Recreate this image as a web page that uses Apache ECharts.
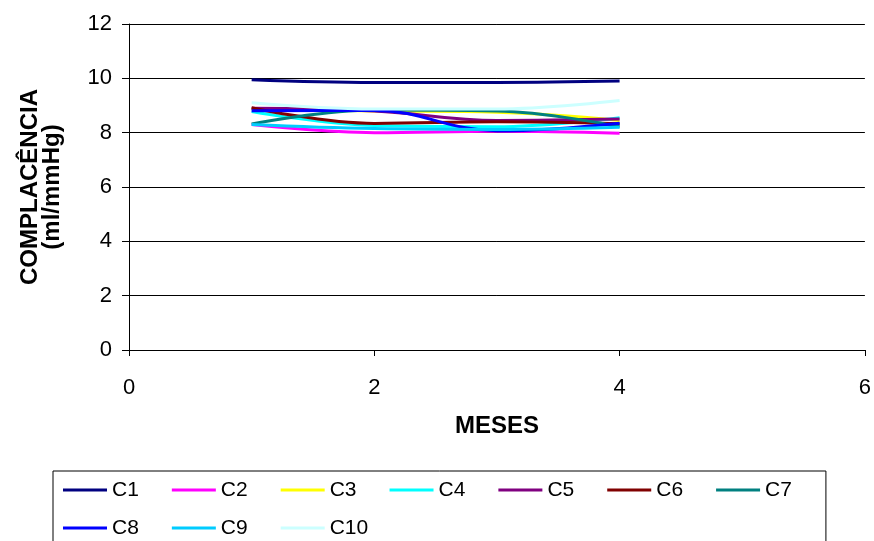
<!DOCTYPE html>
<html>
<head>
<meta charset="utf-8">
<script src="https://cdn.jsdelivr.net/npm/echarts@6/dist/echarts.min.js"></script>
<style>
  html, body { margin: 0; padding: 0; background: #fff; }
  #chart { width: 874px; height: 541px; }
</style>
</head>
<body>
<div id="chart"></div>
<script>
// months on the x axis
const meses = [1, 2, 3, 4];

// compliance values (ml/mmHg)
const c1 = [9.95, 9.85, 9.85, 9.9];
const c2 = [8.3, 8.0, 8.05, 7.98];
const c3 = [8.87, 8.8, 8.75, 8.45];
const c4 = [8.78, 8.26, 8.22, 8.55];
const c5 = [8.9, 8.8, 8.45, 8.5];
const c6 = [8.92, 8.34, 8.4, 8.33];
const c7 = [8.32, 8.83, 8.8, 8.22];
const c8 = [8.81, 8.82, 8.07, 8.35];
const c9 = [8.3, 8.15, 8.12, 8.2];
const c10 = [9.1, 8.87, 8.87, 9.18];

const names = ["C1", "C2", "C3", "C4", "C5", "C6", "C7", "C8", "C9", "C10"];
const values = [c1, c2, c3, c4, c5, c6, c7, c8, c9, c10];
const colors = ["#000080", "#FF00FF", "#FFFF00", "#00FFFF", "#800080",
                "#800000", "#008080", "#0000FF", "#00CCFF", "#CCFFFF"];

const font = "Arial, 'Liberation Sans', sans-serif";

let chart = echarts.init(document.getElementById("chart"));

let series = names.map((name, i) => ({
  name: name,
  type: "line",
  smooth: 0.4,
  symbol: "none",
  data: meses.map((m, j) => [m, values[i][j]]),
  lineStyle: { color: colors[i], width: 3 },
  itemStyle: { color: colors[i] },
}));

// shared legend look; the legend is split in two rows by hand
const legendBase = {
  orient: "horizontal",
  itemGap: 33,
  itemWidth: 44,
  itemHeight: 14,
  icon: "path://M0,0 L44,0 L44,3 L0,3 Z",
  textStyle: { color: "#000", fontSize: 21, fontFamily: font, lineHeight: 22 },
};

let option = {
  animation: false,
  grid: { left: 129, right: 8, top: 24, bottom: 191 },
  xAxis: {
    type: "value",
    min: 0,
    max: 6,
    interval: 2,
    name: "MESES",
    nameLocation: "middle",
    nameGap: 64,
    nameTextStyle: { color: "#000", fontWeight: "bold", fontSize: 24, fontFamily: font },
    axisLine: { lineStyle: { color: "#000", width: 1 } },
    axisTick: { show: true, length: 6, lineStyle: { color: "#000" } },
    axisLabel: { color: "#000", fontSize: 22, fontFamily: font, margin: 27 },
    splitLine: { show: false },
  },
  yAxis: {
    type: "value",
    min: 0,
    max: 12,
    interval: 2,
    name: "COMPLACÊNCIA\n(ml/mmHg)",
    nameLocation: "middle",
    nameGap: 66,
    nameRotate: 90,
    nameTextStyle: { color: "#000", fontWeight: "bold", fontSize: 24, fontFamily: font, lineHeight: 22 },
    axisLine: { show: true, lineStyle: { color: "#000", width: 1 } },
    axisTick: { show: true, length: 7, lineStyle: { color: "#000" } },
    axisLabel: { color: "#000", fontSize: 22, fontFamily: font, margin: 17 },
    splitLine: { show: true, lineStyle: { color: "#000", width: 1 } },
  },
  legend: [
    Object.assign({}, legendBase, {
      data: names.slice(0, 7),
      left: 53,
      top: 471,
      width: 800,
      padding: [8, 34, 60, 10],
      borderColor: "#000",
      borderWidth: 1,
    }),
    Object.assign({}, legendBase, {
      data: names.slice(7),
      left: 53,
      top: 517,
      padding: [0, 0, 0, 10],
    }),
  ],
  series: series,
};

chart.setOption(option);
</script>
</body>
</html>
